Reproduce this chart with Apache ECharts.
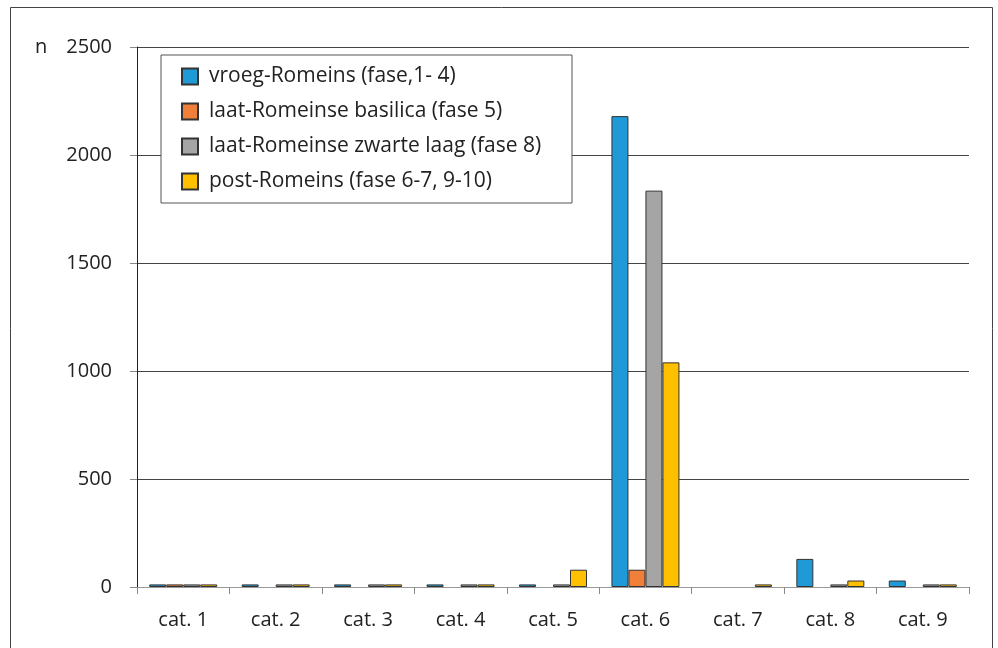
<!DOCTYPE html>
<html>
<head>
<meta charset="utf-8">
<script src="https://cdn.jsdelivr.net/npm/echarts@6/dist/echarts.min.js"></script>
<style>
  html, body { margin: 0; padding: 0; background: #fff; }
  #chart { width: 998px; height: 648px; }
</style>
</head>
<body>
<div id="chart"></div>
<script>
// categorieën en aantallen per fase (null = geen vondsten)
const categories = ['cat. 1', 'cat. 2', 'cat. 3', 'cat. 4', 'cat. 5', 'cat. 6', 'cat. 7', 'cat. 8', 'cat. 9']
const seriesNames = [
  'vroeg-Romeins (fase,1- 4)',
  'laat-Romeinse basilica (fase 5)',
  'laat-Romeinse zwarte laag (fase 8)',
  'post-Romeins (fase 6-7, 9-10)'
]
const vroegRomeins = [12, 12, 12, 12, 12, 2180, null, 130, 30]
const laatBasilica = [12, null, null, null, null, 80, null, null, null]
const laatZwarteLaag = [12, 12, 12, 12, 12, 1835, null, 12, 12]
const postRomeins = [12, 12, 12, 12, 80, 1040, 12, 30, 12]
const yTicks = [0, 500, 1000, 1500, 2000, 2500]

const colors = ['#1f9ad6', '#f07f3a', '#a5a5a5', '#ffc000']
const font = 'Open Sans'

const chart = echarts.init(document.getElementById('chart'))

const makeBar = (name, data) => ({
  name: name,
  type: 'bar',
  data: data,
  barWidth: 17,
  barGap: '0%',
  itemStyle: { borderColor: '#333', borderWidth: 1, borderRadius: 0 },
  emphasis: { disabled: true }
})

chart.setOption({
  animation: false,
  color: colors,
  textStyle: { fontFamily: font },
  graphic: [
    // buitenkader
    {
      type: 'rect',
      shape: { x: 10.5, y: 7.5, width: 982, height: 700 },
      style: { fill: null, stroke: '#444', lineWidth: 1 },
      silent: true
    },
    {
      type: 'text',
      left: 35,
      top: 37,
      style: { text: 'n', font: '20px "' + font + '"', fill: '#222' }
    }
  ],
  grid: { left: 137, right: 29, top: 47, bottom: 61 },
  legend: {
    orient: 'vertical',
    left: 161,
    top: 55,
    data: seriesNames,
    icon: 'rect',
    backgroundColor: '#fff',
    borderColor: '#555',
    borderWidth: 1,
    borderRadius: 0,
    padding: [11, 24, 11, 20],
    itemWidth: 16,
    itemHeight: 16,
    itemGap: 14,
    textStyle: { fontSize: 21, color: '#222', lineHeight: 21, width: 339, padding: [0, 0, 0, 6] },
    selectedMode: false
  },
  xAxis: {
    type: 'category',
    data: categories,
    axisLine: { lineStyle: { color: '#999' } },
    axisTick: { show: true, length: 7, interval: 0, lineStyle: { color: '#888' } },
    axisLabel: { fontSize: 20, color: '#222', margin: 23, interval: 0 }
  },
  yAxis: {
    type: 'value',
    min: yTicks[0],
    max: yTicks[yTicks.length - 1],
    interval: 500,
    axisLine: { show: true, lineStyle: { color: '#222' } },
    axisTick: { show: true, length: 7, lineStyle: { color: '#888' } },
    axisLabel: { fontSize: 20, color: '#222', margin: 25, formatter: (v) => String(v) },
    splitLine: { lineStyle: { color: '#444' } }
  },
  series: [
    makeBar(seriesNames[0], vroegRomeins),
    makeBar(seriesNames[1], laatBasilica),
    makeBar(seriesNames[2], laatZwarteLaag),
    makeBar(seriesNames[3], postRomeins)
  ]
})
</script>
</body>
</html>
